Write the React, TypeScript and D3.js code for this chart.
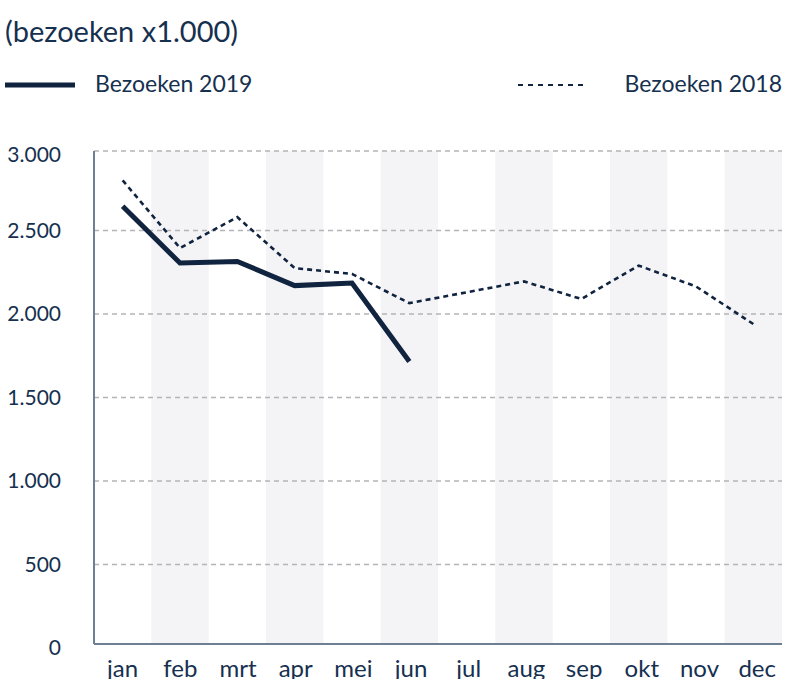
import React, { useEffect, useRef } from 'react';
import * as d3 from 'd3';

// month labels and visits (x1.000)
const months = ['jan', 'feb', 'mrt', 'apr', 'mei', 'jun', 'jul', 'aug', 'sep', 'okt', 'nov', 'dec'];
const visits2019 = [2645, 2305, 2315, 2170, 2185, 1715];
const visits2018 = [2800, 2395, 2580, 2275, 2240, 2065, 2130, 2195, 2090, 2290, 2165, 1940];
const yTicks = [0, 500, 1000, 1500, 2000, 2500, 3000];

const title = '(bezoeken x1.000)';
const label2019 = 'Bezoeken 2019';
const label2018 = 'Bezoeken 2018';

const navy = '#10233f';
const textColor = '#16304f';

const App = () => {
  const svgRef = useRef<SVGSVGElement>(null);

  useEffect(() => {
    const width = 785;
    const height = 679;
    const marginLeft = 94;
    const marginRight = 3;
    const plotTop = 151;
    const plotBottom = 644;

    const svg = d3.select(svgRef.current);
    svg.selectAll('*').remove();
    svg.attr('width', width).attr('height', height).attr('viewBox', [0, 0, width, height].join(' '));

    const nl = d3.formatLocale({ decimal: ',', thousands: '.', grouping: [3], currency: ['€', ''] });
    const fmt = nl.format(',d');

    const x = d3.scaleBand<string>().domain(months).range([marginLeft, width - marginRight]).padding(0);
    const y = d3.scaleLinear().domain([0, 3000]).range([648, 147]);

    // alternating bands
    svg.append('g')
      .selectAll('rect')
      .data(months.filter((_, i) => i % 2 === 1))
      .join('rect')
      .attr('x', d => x(d)!)
      .attr('y', plotTop)
      .attr('width', x.bandwidth())
      .attr('height', plotBottom - plotTop)
      .attr('fill', '#f4f4f6');

    // grid lines
    svg.append('g')
      .selectAll('line')
      .data(yTicks.filter(d => d > 0))
      .join('line')
      .attr('x1', marginLeft)
      .attr('x2', width - marginRight)
      .attr('y1', d => Math.max(plotTop, y(d)))
      .attr('y2', d => Math.max(plotTop, y(d)))
      .attr('stroke', '#b4b4b8')
      .attr('stroke-width', 1.3)
      .attr('stroke-dasharray', '5 4');

    // axes lines
    svg.append('line')
      .attr('x1', marginLeft).attr('x2', marginLeft)
      .attr('y1', plotTop).attr('y2', plotBottom)
      .attr('stroke', '#6d7f93').attr('stroke-width', 2);
    svg.append('line')
      .attr('x1', marginLeft).attr('x2', width - marginRight)
      .attr('y1', plotBottom).attr('y2', plotBottom)
      .attr('stroke', '#6d7f93').attr('stroke-width', 2);

    // y tick labels
    svg.append('g')
      .selectAll('text')
      .data(yTicks)
      .join('text')
      .attr('x', 61)
      .attr('y', d => (d === 3000 ? y(d) + 8 : y(d)))
      .attr('dy', '0.35em')
      .attr('text-anchor', 'end')
      .attr('fill', textColor)
      .style('font-size', '21px')
      .text(d => fmt(d));

    // x tick labels
    svg.append('g')
      .selectAll('text')
      .data(months)
      .join('text')
      .attr('x', (d, i) => x(d)! + x.bandwidth() / 2 + i * 0.35)
      .attr('y', 677)
      .attr('text-anchor', 'middle')
      .attr('fill', textColor)
      .style('font-size', '24px')
      .text(d => d);

    const line = d3.line<number>()
      .x((_, i) => x(months[i])! + x.bandwidth() / 2)
      .y(d => y(d));

    svg.append('path')
      .datum(visits2018)
      .attr('d', line)
      .attr('fill', 'none')
      .attr('stroke', navy)
      .attr('stroke-width', 2.6)
      .attr('stroke-dasharray', '5 4');

    svg.append('path')
      .datum(visits2019)
      .attr('d', line)
      .attr('fill', 'none')
      .attr('stroke', navy)
      .attr('stroke-width', 5);

    // title
    svg.append('text')
      .attr('x', 5).attr('y', 42)
      .attr('fill', textColor)
      .style('font-size', '29px')
      .text(title);

    // legend
    svg.append('line')
      .attr('x1', 5).attr('x2', 75).attr('y1', 85).attr('y2', 85)
      .attr('stroke', navy).attr('stroke-width', 5);
    svg.append('text')
      .attr('x', 95).attr('y', 92)
      .attr('fill', textColor)
      .style('font-size', '23px')
      .text(label2019);
    svg.append('line')
      .attr('x1', 518).attr('x2', 588).attr('y1', 85).attr('y2', 85)
      .attr('stroke', navy).attr('stroke-width', 2.2)
      .attr('stroke-dasharray', '5 5');
    svg.append('text')
      .attr('x', 782).attr('y', 92)
      .attr('text-anchor', 'end')
      .attr('fill', textColor)
      .style('font-size', '23px')
      .text(label2018);
  }, []);

  return (
    <div style={{ position: 'absolute', left: 0, top: 0, fontFamily: 'Lato, sans-serif' }}>
      <svg ref={svgRef} style={{ display: 'block', fontFamily: 'Lato, sans-serif' }} />
    </div>
  );
};

export default App;
